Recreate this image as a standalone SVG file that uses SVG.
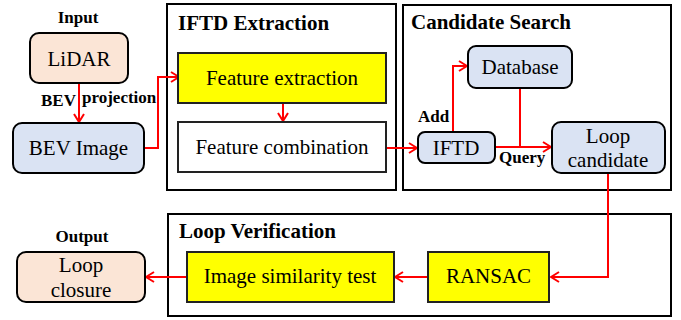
<svg xmlns="http://www.w3.org/2000/svg" width="681" height="320" viewBox="0 0 681 320">
<style>
.frame{fill:#fff;stroke:#000;stroke-width:2}
.peach{fill:#fbe5d6;stroke:#000;stroke-width:2}
.blue{fill:#dae3f3;stroke:#000;stroke-width:2}
.yellow{fill:#ffff00;stroke:#222;stroke-width:2}
.white{fill:#fff;stroke:#222;stroke-width:2}
text{font-family:'Liberation Serif','Times New Roman',Times,'DejaVu Serif',serif;fill:#000}
.t{font-size:21px;text-anchor:middle}
.title{font-size:21px;font-weight:bold}
.lbl{font-size:17px;font-weight:bold}
.c{fill:none;stroke:#ff0000;stroke-width:2}
</style>
<defs>
<marker id="ah" viewBox="0 0 10 12" refX="9" refY="6" markerWidth="10" markerHeight="12" markerUnits="userSpaceOnUse" orient="auto">
<path d="M1,1 L9,6 L1,11" fill="none" stroke="#ff0000" stroke-width="2"/>
</marker>
</defs>
<g id="group-iftd-extraction">
<rect class="frame" x="167" y="4" width="229" height="186"/>
<text class="title" x="178" y="30">IFTD Extraction</text>
</g>
<g id="group-candidate-search">
<rect class="frame" x="403" y="5" width="268" height="185"/>
<text class="title" x="411" y="29">Candidate Search</text>
</g>
<g id="group-loop-verification">
<rect class="frame" x="168" y="214" width="503" height="102"/>
<text class="title" x="179" y="238">Loop Verification</text>
</g>
<g id="connectors">
<path class="c" d="M79,83 V122" marker-end="url(#ah)"/>
<path class="c" d="M144,148 H158 V77 H179" marker-end="url(#ah)"/>
<path class="c" d="M283,103 V121" marker-end="url(#ah)"/>
<path class="c" d="M386,148 H417" marker-end="url(#ah)"/>
<path class="c" d="M453,132 V66 H467" marker-end="url(#ah)"/>
<path class="c" d="M520,88 V147"/>
<path class="c" d="M495,147 H551" marker-end="url(#ah)"/>
<path class="c" d="M608,173 V277 H551" marker-end="url(#ah)"/>
<path class="c" d="M428,277 H395" marker-end="url(#ah)"/>
<path class="c" d="M187,277 H146" marker-end="url(#ah)"/>
<text class="lbl" x="41" y="106">BEV</text>
<text class="lbl" x="82" y="103">projection</text>
<text class="lbl" x="418" y="122">Add</text>
<text class="lbl" x="499" y="163">Query</text>
</g>
<g id="node-input-label"><text class="lbl" x="78" y="23" text-anchor="middle">Input</text></g>
<g id="node-lidar">
<rect class="peach" x="30" y="33" width="98" height="50" rx="9"/>
<text class="t" x="79" y="66">LiDAR</text>
</g>
<g id="node-bev-image">
<rect class="blue" x="13" y="123" width="131" height="50" rx="9"/>
<text class="t" x="78.5" y="155">BEV Image</text>
</g>
<g id="node-feature-extraction">
<rect class="yellow" x="178" y="53" width="208" height="50"/>
<text class="t" x="282" y="85">Feature extraction</text>
</g>
<g id="node-feature-combination">
<rect class="white" x="178" y="122" width="208" height="50"/>
<text class="t" x="282" y="154">Feature combination</text>
</g>
<g id="node-iftd">
<rect class="blue" x="418" y="132" width="77" height="31" rx="7"/>
<text class="t" x="456" y="155">IFTD</text>
</g>
<g id="node-database">
<rect class="blue" x="468" y="46" width="104" height="42" rx="8"/>
<text class="t" x="520" y="74">Database</text>
</g>
<g id="node-loop-candidate">
<rect class="blue" x="552" y="122" width="113" height="51" rx="9"/>
<text class="t" x="608" y="143">Loop</text>
<text class="t" x="608" y="167">candidate</text>
</g>
<g id="node-ransac">
<rect class="yellow" x="428" y="252" width="121" height="50"/>
<text class="t" x="488.5" y="283">RANSAC</text>
</g>
<g id="node-image-similarity">
<rect class="yellow" x="187" y="252" width="207" height="50"/>
<text class="t" x="290" y="283">Image similarity test</text>
</g>
<g id="node-output-label"><text class="lbl" x="82" y="242" text-anchor="middle">Output</text></g>
<g id="node-loop-closure">
<rect class="peach" x="17" y="252" width="128" height="50" rx="9"/>
<text class="t" x="81" y="272">Loop</text>
<text class="t" x="81" y="297">closure</text>
</g>
</svg>
